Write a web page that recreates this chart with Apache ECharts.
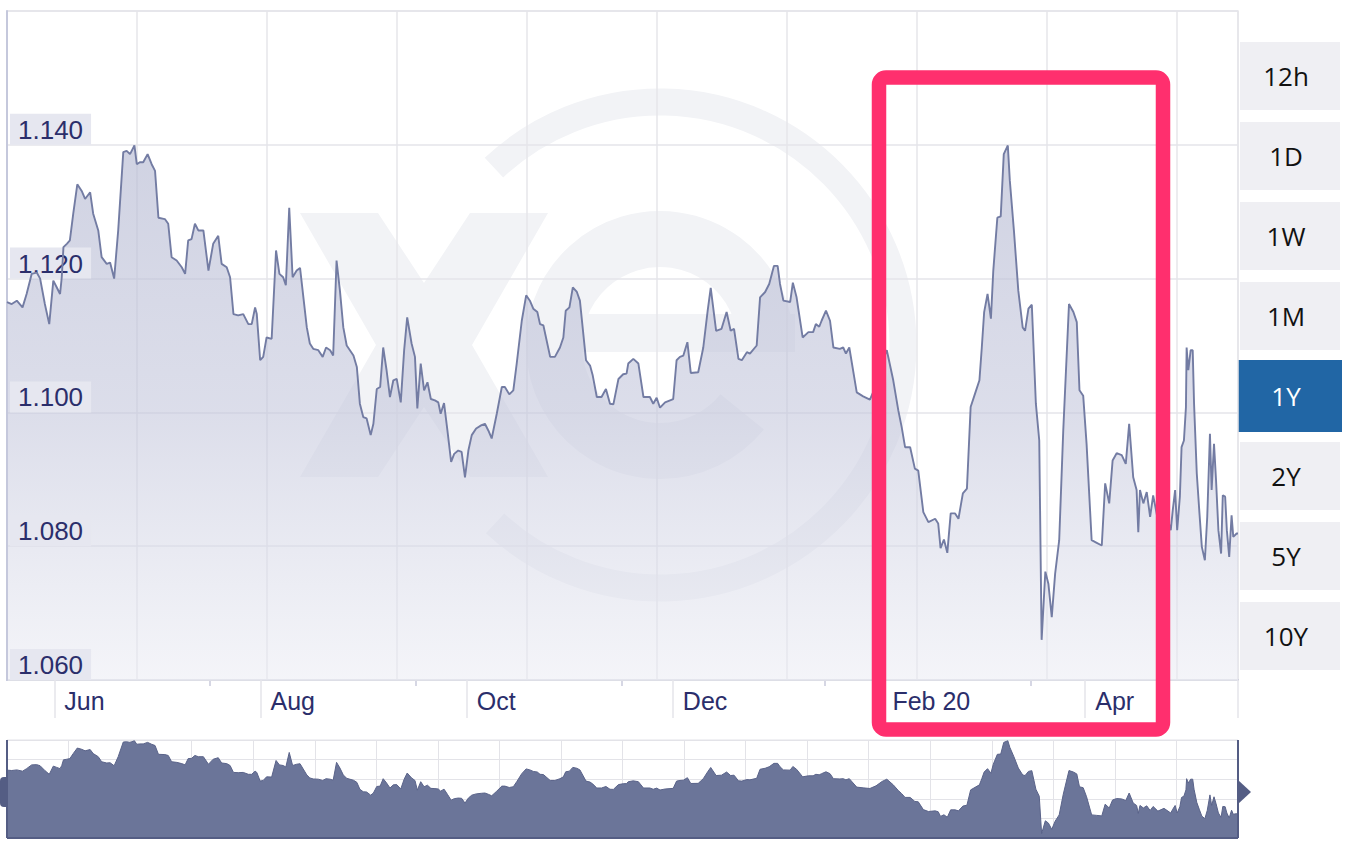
<!DOCTYPE html>
<html>
<head>
<meta charset="utf-8">
<title>EUR/USD 1Y</title>
<script src="https://cdn.jsdelivr.net/npm/echarts@6/dist/echarts.min.js"></script>
<style>
  html, body { margin: 0; padding: 0; background: #fff; }
  #chart { width: 1354px; height: 844px; }
</style>
</head>
<body>
<div id="chart"></div>
<script>
// days counted from 18 May 2019, the left edge of the 1Y window
const days = [
  0, 1.4, 2.9, 4.6, 5.8, 7.3, 8.8, 9.8, 11.2, 12.5, 13.7, 14.7, 15.7, 16.2, 16.7, 17.7, 18.6, 19.6, 20.8, 22.1,
  23.1, 24.6, 25.5, 27.0, 28.0, 29.5, 30.5, 31.7, 32.9, 34.4, 35.4, 36.4, 37.7, 38.4, 39.3, 40.3, 41.6, 42.8, 43.8, 44.8,
  46.7, 47.7, 48.7, 50.2, 51.7, 52.7, 53.6, 54.6, 55.6, 56.6, 58.1, 59.6, 61.0, 62.5, 63.5, 65.0, 66.0, 67.0, 68.4, 69.9,
  71.4, 72.4, 73.4, 73.9, 74.9, 75.8, 76.8, 78.3, 79.6, 80.6, 81.7, 82.5, 83.5, 84.5, 85.7, 86.7,
  88.7, 89.6, 90.6, 92.1, 93.4, 94.4, 95.6, 96.5, 97.5, 98.5, 99.5, 100.5, 102.5, 103.5, 104.4, 105.4, 106.4, 107.6, 108.4, 109.4,
  110.4, 111.3, 112.3, 113.3, 114.3, 115.3, 116.5, 117.5, 118.4, 119.7, 120.7, 121.4, 122.4, 123.4, 124.4, 125.4, 126.6, 127.6, 128.3, 129.3,
  130.3, 131.4, 132.3, 133.5, 134.5, 135.5, 136.5, 137.5, 138.8, 140.4, 141.4, 142.4, 143.4, 144.9, 146.4, 147.3, 148.6, 149.8, 150.8, 152.3,
  153.6, 154.7, 155.7, 156.9, 157.7, 158.7, 160.7, 162.1, 163.6, 164.6, 165.3, 166.4, 167.4, 168.6, 169.5, 171.3, 172.5, 173.3, 174.5, 175.9,
  177.2, 178.4,
  179.4, 180.9, 182.3, 183.3, 183.8, 185.3, 186.8, 188.3, 190.2, 191.2, 192.2, 193.2, 194.7, 197.1, 198.1, 199.1, 200.1, 201.3, 202.3, 204.5,
  206.0, 207.3, 208.2, 209.8, 211.4, 212.9, 214.1, 215.1, 216.4, 217.4, 218.9, 219.8, 221.8, 222.8, 224.3, 225.5, 226.9, 228.0, 228.7, 229.7,
  231.7, 232.5, 233.6, 235.4, 237.1, 238.5, 239.3, 240.3, 241.0, 242.3, 243.5, 244.5, 246.4, 247.4, 248.2, 249.2, 251.4, 253.3, 255.3, 257.1,
  258.9, 260.3, 262.2, 263.7, 264.7, 265.7, 267.2, 268.6, 269.6, 271.1, 272.6, 274.6, 275.5, 276.2, 277.2, 278.2, 279.2, 280.5, 281.5, 282.8,
  284.0, 285.1, 286.4, 287.7, 288.4, 289.1, 290.1, 291.1, 291.8, 293.0, 294.0, 294.9, 296.1, 296.7, 297.9, 299.2, 300.5, 301.2, 302.2, 303.2,
  304.4, 305.4, 306.1, 307.2, 308.1, 309.1, 310.1, 311.3, 312.5, 314.2, 315.5, 316.5, 317.3, 318.4, 319.4, 320.9, 322.4, 323.9, 324.9, 326.1,
  327.1, 328.3, 329.8, 331.0, 332.0, 333.2, 334.2, 334.7, 335.2, 336.2, 337.2, 338.2, 339.1, 340.5, 342.3, 344.3, 344.9, 345.6, 346.2, 347.0,
  347.5, 348.2, 348.8, 349.0, 349.5, 350.2, 350.8, 351.2, 352.0, 352.8, 353.5, 354.4, 355.1, 355.9, 356.4, 357.1, 357.7, 358.4, 359.2, 359.7,
  360.4, 360.9, 361.6, 362.3, 362.8, 363.8, 364.2
];
const rates = [
  1.1165, 1.1162, 1.1167, 1.1157, 1.1177, 1.1207, 1.1209, 1.1200, 1.1162, 1.1132, 1.1197, 1.1187, 1.1177, 1.1202, 1.1247, 1.1252, 1.1257, 1.1297, 1.1341, 1.1331,
  1.1319, 1.1329, 1.1297, 1.1272, 1.1232, 1.1222, 1.1224, 1.1200, 1.1272, 1.1389, 1.1391, 1.1386, 1.1399, 1.1371, 1.1374, 1.1374, 1.1386, 1.1371, 1.1361, 1.1291,
  1.1289, 1.1282, 1.1232, 1.1227, 1.1217, 1.1207, 1.1257, 1.1259, 1.1282, 1.1272, 1.1272, 1.1212, 1.1252, 1.1264, 1.1222, 1.1217, 1.1202, 1.1147, 1.1145, 1.1147,
  1.1132, 1.1132, 1.1157, 1.1147, 1.1078, 1.1083, 1.1112, 1.1110, 1.1242, 1.1207, 1.1202, 1.1190, 1.1306, 1.1202, 1.1212, 1.1216,
  1.1127, 1.1103, 1.1095, 1.1093, 1.1083, 1.1097, 1.1093, 1.1085, 1.1227, 1.1182, 1.1127, 1.1100, 1.1085, 1.1068, 1.1013, 1.0993, 1.0991, 1.0966, 1.0983, 1.1035,
  1.1038, 1.1097, 1.1063, 1.1023, 1.1048, 1.1050, 1.1015, 1.1093, 1.1142, 1.1103, 1.1083, 1.1006, 1.1073, 1.1033, 1.1045, 1.1020, 1.1018, 1.1015, 1.0998, 1.1014,
  1.0973, 1.0926, 1.0938, 1.0943, 1.0941, 1.0903, 1.0943, 1.0966, 1.0976, 1.0981, 1.0983, 1.0973, 1.0961, 1.0998, 1.1038, 1.1038, 1.1027, 1.1033, 1.1073, 1.1137,
  1.1175, 1.1167, 1.1155, 1.1150, 1.1132, 1.1130, 1.1083, 1.1083, 1.1097, 1.1112, 1.1152, 1.1157, 1.1187, 1.1180, 1.1167, 1.1078, 1.1070, 1.1055, 1.1023, 1.1023,
  1.1035, 1.1013,
  1.1012, 1.1050, 1.1057, 1.1058, 1.1073, 1.1080, 1.1073, 1.1023, 1.1023, 1.1013, 1.1022, 1.1007, 1.1015, 1.1020, 1.1078, 1.1083, 1.1085, 1.1105, 1.1059, 1.1060,
  1.1097, 1.1152, 1.1186, 1.1122, 1.1125, 1.1150, 1.1122, 1.1125, 1.1080, 1.1078, 1.1090, 1.1088, 1.1100, 1.1172, 1.1180, 1.1192, 1.1219, 1.1219, 1.1192, 1.1167,
  1.1165, 1.1194, 1.1172, 1.1112, 1.1120, 1.1120, 1.1132, 1.1128, 1.1137, 1.1152, 1.1137, 1.1097, 1.1095, 1.1097, 1.1088, 1.1097, 1.1030, 1.1024, 1.1019, 1.1040,
  1.1075, 1.1093, 1.1048, 1.1003, 1.0978, 1.0948, 1.0948, 1.0916, 1.0913, 1.0851, 1.0836, 1.0841, 1.0834, 1.0797, 1.0810, 1.0790, 1.0849, 1.0849, 1.0841, 1.0879,
  1.0886, 1.1008, 1.1028, 1.1048, 1.1097, 1.1150, 1.1177, 1.1140, 1.1212, 1.1291, 1.1293, 1.1386, 1.1399, 1.1346, 1.1272, 1.1182, 1.1127, 1.1122, 1.1155, 1.1161,
  1.1013, 1.0958, 1.0660, 1.0762, 1.0744, 1.0694, 1.0759, 1.0809, 1.0973, 1.1162, 1.1150, 1.1135, 1.1033, 1.1025, 1.0953, 1.0809, 1.0805, 1.0801, 1.0894, 1.0864,
  1.0928, 1.0939, 1.0936, 1.0923, 1.0983, 1.0903, 1.0884, 1.0821, 1.0884, 1.0864, 1.0881, 1.0844, 1.0876, 1.0839, 1.0861, 1.0824, 1.0854, 1.0884, 1.0824, 1.0874,
  1.0948, 1.0958, 1.1008, 1.1097, 1.1063, 1.1093, 1.1093, 1.1013, 1.0909, 1.0849, 1.0799, 1.0779, 1.0844, 1.0968, 1.0884, 1.0953, 1.0899, 1.0824, 1.0789, 1.0876,
  1.0874, 1.0824, 1.0784, 1.0846, 1.0814, 1.0819, 1.0819
];

const spanDays = 364.2;
const monthTickDays = [14, 75, 136, 197, 259, 319];
const monthLabels = ['Jun', 'Aug', 'Oct', 'Dec', 'Feb 20', 'Apr'];
const minorTickDays = [60, 121, 182, 242, 303];
const rangeButtons = ['12h', '1D', '1W', '1M', '1Y', '2Y', '5Y', '10Y'];
const activeRange = '1Y';

const points = days.map((d, i) => [d, rates[i]]);

const chart = echarts.init(document.getElementById('chart'), null, { renderer: 'svg' });

// range selector on the right
const buttons = [];
rangeButtons.forEach((name, i) => {
  const active = name === activeRange;
  const top = 42 + i * 80;
  buttons.push({
    type: 'rect',
    shape: active ? { x: 1238, y: top - 2, width: 104, height: 72 } : { x: 1240, y: top, width: 100, height: 68 },
    style: { fill: active ? '#2166a5' : '#efeff3' }
  });
  buttons.push({
    type: 'text',
    x: 1286,
    y: top + 34,
    style: {
      text: name,
      fill: active ? '#ffffff' : '#111111',
      font: '26px "Open Sans", sans-serif',
      align: 'center',
      verticalAlign: 'middle'
    }
  });
});

// faint XE watermark behind the plot
const wmColor = '#f2f3f6';
const watermark = [
  {
    type: 'polygon', z: -1, silent: true,
    shape: { points: [[300, 213], [378, 213], [424, 283], [470, 213], [548, 213], [472, 345], [548, 477], [470, 477], [424, 407], [378, 477], [300, 477], [376, 345]] },
    style: { fill: wmColor }
  },
  {
    type: 'arc', z: -1, silent: true,
    shape: { cx: 660, cy: 345, r: 243, startAngle: 3.96, endAngle: 8.6, clockwise: true },
    style: { stroke: wmColor, lineWidth: 27, fill: 'none' }
  },
  {
    type: 'arc', z: -1, silent: true,
    shape: { cx: 660, cy: 345, r: 106, startAngle: 0, endAngle: -5.6, clockwise: false },
    style: { stroke: wmColor, lineWidth: 56, fill: 'none' }
  },
  {
    type: 'rect', z: -1, silent: true,
    shape: { x: 580, y: 314, width: 215, height: 38 },
    style: { fill: wmColor }
  }
];

// navigator frame and handles
const navigator = [
  { type: 'line', z: 10, shape: { x1: 7, y1: 740, x2: 7, y2: 838 }, style: { stroke: '#545d84', lineWidth: 2 } },
  { type: 'line', z: 10, shape: { x1: 7, y1: 838, x2: 1238, y2: 838 }, style: { stroke: '#545d84', lineWidth: 2 } },
  { type: 'line', z: 10, shape: { x1: 1238, y1: 740, x2: 1238, y2: 838 }, style: { stroke: '#545d84', lineWidth: 2 } },
  { type: 'rect', z: 10, shape: { x: 0, y: 777, width: 8, height: 30, r: [4, 0, 0, 4] }, style: { fill: '#545d84' } },
  { type: 'polygon', z: 10, shape: { points: [[1238, 780], [1251, 792], [1238, 804]] }, style: { fill: '#545d84' } }
];

// highlight frame around Feb-Apr
const highlight = [{
  type: 'rect', z: 100,
  shape: { x: 879, y: 77.5, width: 284, height: 652, r: 7 },
  style: { fill: 'none', stroke: '#ff2f6e', lineWidth: 14.5 }
}];

const labelFont = '"Liberation Sans", Arial, sans-serif';
const hidden = { axisLine: { show: false }, axisTick: { show: false }, axisLabel: { show: false } };

chart.setOption({
  animation: false,
  grid: [
    { left: 7, right: 116, top: 11, bottom: 164, show: true, borderColor: '#e6e6ea', borderWidth: 1.5 },
    { left: 7, right: 116, top: 740, bottom: 6, show: true, borderColor: '#e3e3e8', borderWidth: 1 }
  ],
  xAxis: [
    {
      // month labels with long ticks
      type: 'value', gridIndex: 0, min: 0, max: spanDays,
      axisLine: { show: true, lineStyle: { color: '#c8cadb', width: 2 } },
      axisTick: { show: true, customValues: monthTickDays.concat([spanDays]), length: 38, lineStyle: { color: '#e5e5ea', width: 1.5 } },
      axisLabel: {
        show: true, customValues: monthTickDays, align: 'left', margin: 8, padding: [0, 0, 0, 10],
        fontSize: 25, fontFamily: labelFont, color: '#2b2e6b',
        formatter: v => monthLabels[monthTickDays.indexOf(v)] || ''
      },
      splitLine: { show: false }
    },
    Object.assign({
      // vertical grid columns
      type: 'value', gridIndex: 0, position: 'bottom', min: 0, max: spanDays, interval: spanDays * 130 / 1231,
      splitLine: { show: true, lineStyle: { color: '#e6e6ea', width: 1.5 } }
    }, hidden),
    {
      // short ticks between labels
      type: 'value', gridIndex: 0, position: 'bottom', min: 0, max: spanDays,
      axisLine: { show: false },
      axisTick: { show: true, customValues: minorTickDays, length: 6, lineStyle: { color: '#c8cadb', width: 1.5 } },
      axisLabel: { show: false },
      splitLine: { show: false }
    },
    Object.assign({
      type: 'value', gridIndex: 1, min: 0, max: spanDays, interval: spanDays / 20,
      splitLine: { show: true, lineStyle: { color: '#e3e3e8', width: 1 } }
    }, hidden)
  ],
  yAxis: [
    {
      type: 'value', gridIndex: 0, min: 1.06, max: 1.16, interval: 0.02, z: 3,
      axisLine: { show: true, lineStyle: { color: '#c5c8dc', width: 2 } },
      axisTick: { show: false },
      axisLabel: {
        inside: true, showMaxLabel: false, verticalAlign: 'bottom', margin: 3,
        fontSize: 26, fontFamily: labelFont, color: '#2b2e6b', lineHeight: 26,
        backgroundColor: '#e6e7f0', padding: [3, 8, 2, 8],
        formatter: v => v.toFixed(3)
      },
      splitLine: { show: true, lineStyle: { color: '#e4e4ea', width: 1.5 } }
    },
    Object.assign({
      type: 'value', gridIndex: 1, min: 1.0625, max: 1.1405, interval: 0.0156,
      splitLine: { show: true, lineStyle: { color: '#e3e3e8', width: 1 } }
    }, hidden)
  ],
  series: [
    {
      type: 'line', xAxisIndex: 0, yAxisIndex: 0, data: points,
      symbol: 'none', smooth: false,
      lineStyle: { color: '#737ca3', width: 1.9 },
      areaStyle: {
        origin: 'start',
        color: new echarts.graphic.LinearGradient(0, 0, 0, 1, [
          { offset: 0, color: 'rgba(184,188,212,0.95)' },
          { offset: 0.5, color: 'rgba(196,199,220,0.85)' },
          { offset: 1, color: 'rgba(234,235,243,0.75)' }
        ])
      }
    },
    {
      type: 'line', xAxisIndex: 3, yAxisIndex: 1, data: points,
      symbol: 'none',
      lineStyle: { color: '#5a6389', width: 1 },
      areaStyle: { origin: 'start', color: '#6b7599', opacity: 1 }
    }
  ],
  graphic: watermark.concat(navigator, buttons, highlight)
});
</script>
</body>
</html>
